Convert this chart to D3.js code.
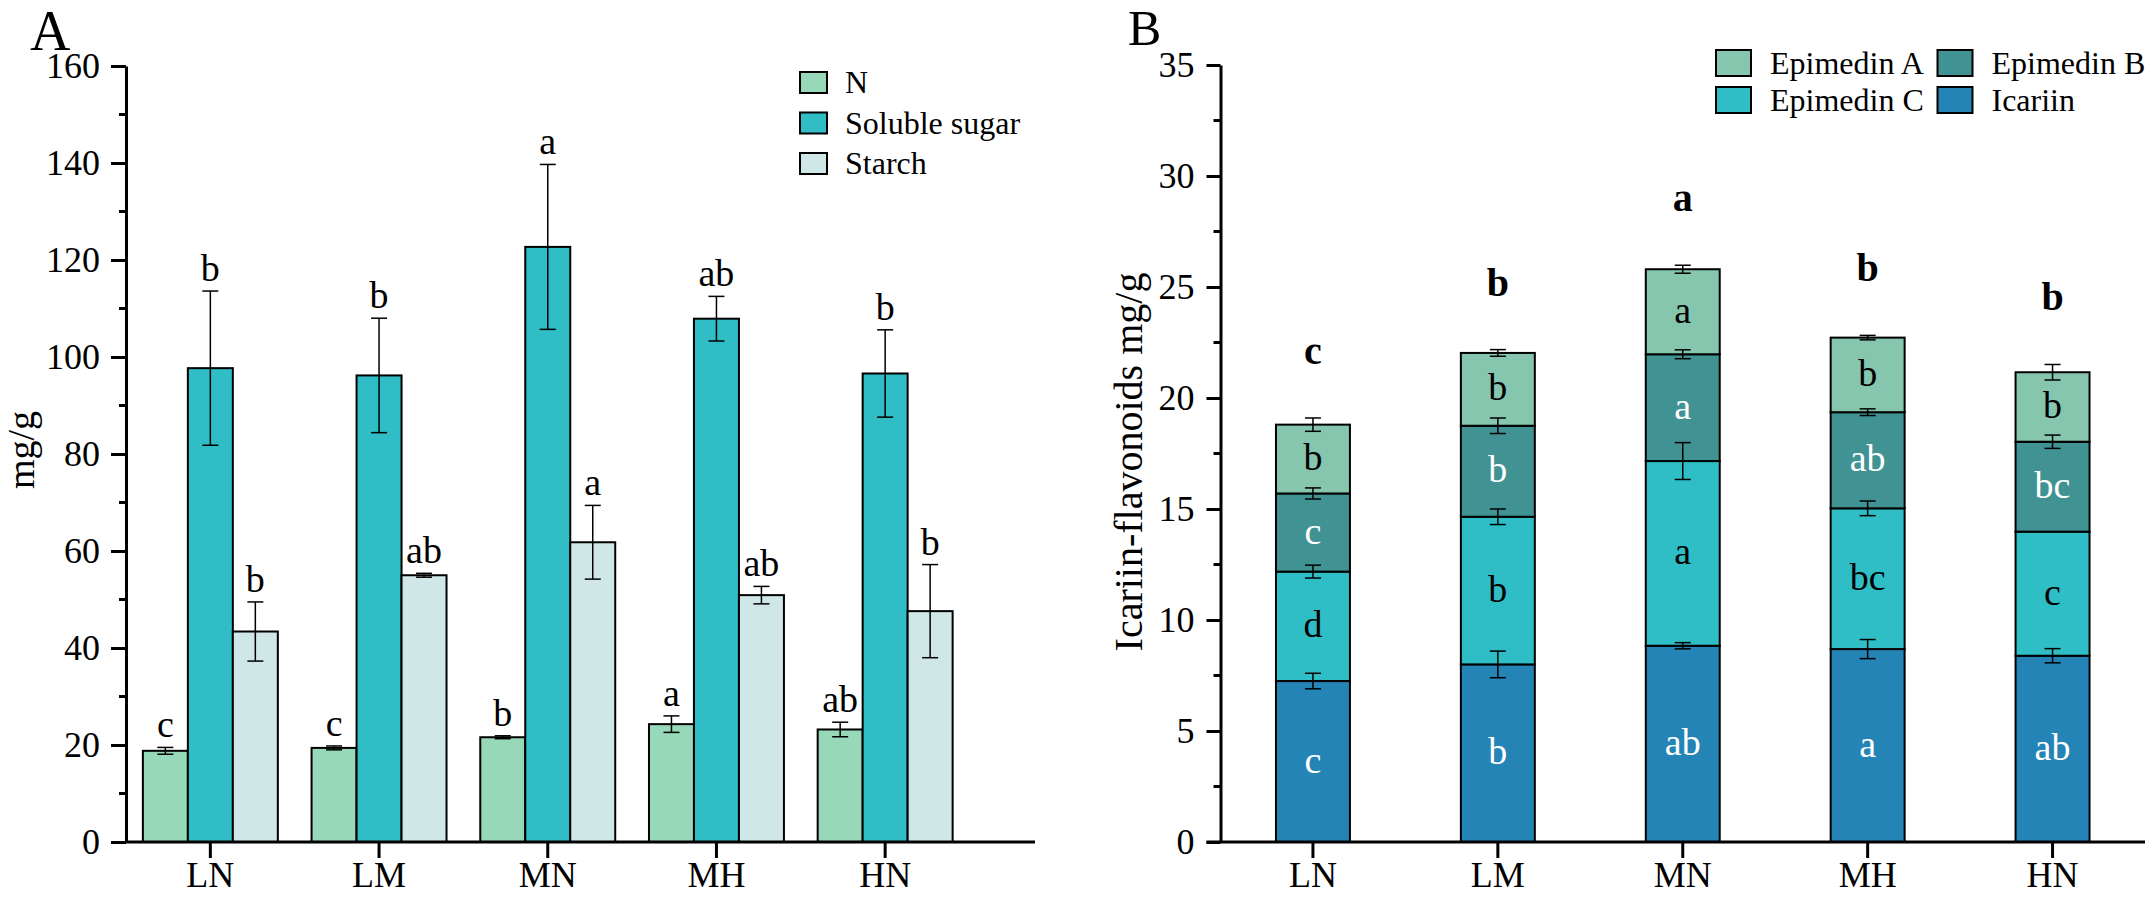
<!DOCTYPE html>
<html>
<head>
<meta charset="utf-8">
<script src="https://cdn.jsdelivr.net/npm/d3@7"></script>
<style>
  html, body { margin: 0; padding: 0; background: #fff; }
  svg { display: block; font-family: "Liberation Serif", "Times New Roman", serif; }
</style>
</head>
<body>
<svg id="chart" width="2149" height="904"></svg>
<script>
// ---- data: panel A (mg/g) ----
const groups = ['LN', 'LM', 'MN', 'MH', 'HN'];
const seriesA = ['N', 'Soluble sugar', 'Starch'];
const nVals = [18.8, 19.4, 21.6, 24.3, 23.2];
const nErr = [0.7, 0.4, 0.3, 1.7, 1.5];
const nLet = ['c', 'c', 'b', 'a', 'ab'];
const sugarVals = [97.7, 96.2, 122.7, 107.9, 96.6];
const sugarErr = [15.9, 11.8, 17.0, 4.6, 9.0];
const sugarLet = ['b', 'b', 'a', 'ab', 'b'];
const starchVals = [43.4, 55.0, 61.8, 50.9, 47.6];
const starchErr = [6.1, 0.4, 7.6, 1.8, 9.6];
const starchLet = ['b', 'ab', 'a', 'ab', 'b'];

// ---- data: panel B (Icariin-flavonoids mg/g), stacked bottom -> top ----
const seriesB = ['Icariin', 'Epimedin C', 'Epimedin B', 'Epimedin A'];
const icariin = [7.25, 8.0, 8.84, 8.69, 8.39];
const icariinErr = [0.35, 0.6, 0.14, 0.43, 0.32];
const icariinLet = ['c', 'b', 'ab', 'a', 'ab'];
const epiC = [4.93, 6.65, 8.32, 6.34, 5.59];
const epiCErr = [0.29, 0.35, 0.83, 0.33, 0];
const epiCLet = ['d', 'b', 'a', 'bc', 'c'];
const epiB = [3.52, 4.1, 4.81, 4.33, 4.05];
const epiBErr = [0.25, 0.35, 0.2, 0.15, 0.3];
const epiBLet = ['c', 'b', 'a', 'ab', 'bc'];
const epiA = [3.1, 3.28, 3.83, 3.36, 3.13];
const epiAErr = [0.3, 0.15, 0.18, 0.1, 0.35];
const epiALet = ['b', 'b', 'a', 'b', 'b'];
const totalLet = ['c', 'b', 'a', 'b', 'b'];

const ticksA = [0, 20, 40, 60, 80, 100, 120, 140, 160];
const minorA = [10, 30, 50, 70, 90, 110, 130, 150];
const ticksB = [0, 5, 10, 15, 20, 25, 30, 35];
const minorB = [2.5, 7.5, 12.5, 17.5, 22.5, 27.5, 32.5];

const colorsA = ['#97d8b9', '#30bdc6', '#cfe8e7'];
const colorsB = {'Icariin': '#2484b6', 'Epimedin C': '#2fbec6', 'Epimedin B': '#419393', 'Epimedin A': '#86c6ae'};
const textColB = {'Icariin': '#fff', 'Epimedin C': '#000', 'Epimedin B': '#fff', 'Epimedin A': '#000'};

const svg = d3.select('#chart');
const FONT = 38;
const TICKFONT = 36;

function styleAxis(g) {
  g.selectAll('path.domain').attr('stroke', '#000').attr('stroke-width', 3);
  g.selectAll('.tick line').attr('stroke', '#000').attr('stroke-width', 3);
  g.selectAll('.tick text').attr('font-size', TICKFONT).attr('fill', '#000')
      .attr('font-family', '"Liberation Serif", "Times New Roman", serif');
}

function errorBar(g, x, yTop, yBot) {
  const cap = 8;
  g.append('line').attr('x1', x).attr('x2', x).attr('y1', yTop).attr('y2', yBot)
      .attr('stroke', '#000').attr('stroke-width', 1.5);
  [yTop, yBot].forEach(yy => {
    g.append('line').attr('x1', x - cap).attr('x2', x + cap).attr('y1', yy).attr('y2', yy)
        .attr('stroke', '#000').attr('stroke-width', 1.5);
  });
}

// ================= Panel A =================
const axA = 126;
const xA = d3.scaleBand().domain(groups).range([axA, axA + 5 * 168.7]).paddingInner(0.2).paddingOuter(0.1);
const xSub = d3.scaleBand().domain(seriesA).range([0, xA.bandwidth()]);
const yA = d3.scaleLinear().domain([0, 160]).range([842, 66]);

const dataA = [
  {vals: nVals, err: nErr, let: nLet},
  {vals: sugarVals, err: sugarErr, let: sugarLet},
  {vals: starchVals, err: starchErr, let: starchLet}
];

const gA = svg.append('g');
dataA.forEach((s, si) => {
  groups.forEach((grp, gi) => {
    const x0 = xA(grp) + xSub(seriesA[si]);
    const v = s.vals[gi];
    gA.append('rect')
        .attr('x', x0).attr('y', yA(v))
        .attr('width', xSub.bandwidth()).attr('height', yA(0) - yA(v))
        .attr('fill', colorsA[si]).attr('stroke', '#000').attr('stroke-width', 2);
  });
});
dataA.forEach((s, si) => {
  groups.forEach((grp, gi) => {
    const cx = xA(grp) + xSub(seriesA[si]) + xSub.bandwidth() / 2;
    const v = s.vals[gi];
    const e = s.err[gi];
    errorBar(gA, cx, yA(v + e), yA(v - e));
    gA.append('text').attr('x', cx).attr('y', yA(v + e) - 10)
        .attr('text-anchor', 'middle').attr('font-size', FONT).text(s.let[gi]);
  });
});

// axes A
const yAxisA = gA.append('g').attr('transform', `translate(${axA},0)`)
    .call(d3.axisLeft(yA).tickValues(ticksA).tickSize(15).tickSizeOuter(0).tickPadding(11).tickFormat(d3.format('d')));
styleAxis(yAxisA);
minorA.forEach(m => {
  yAxisA.append('line').attr('x1', -7).attr('x2', 0).attr('y1', yA(m)).attr('y2', yA(m))
      .attr('stroke', '#000').attr('stroke-width', 3);
});
const xAxisA = gA.append('g').attr('transform', 'translate(0,842)')
    .call(d3.axisBottom(xA).tickSize(16).tickSizeOuter(0).tickPadding(3));
styleAxis(xAxisA);
xAxisA.select('.domain').attr('d', `M${axA},0H1035`);

gA.append('text').attr('transform', 'translate(34,450) rotate(-90)')
    .attr('text-anchor', 'middle').attr('font-size', FONT).text('mg/g');
gA.append('text').attr('x', 30).attr('y', 50).attr('font-size', 56).text('A');

// legend A
seriesA.forEach((name, i) => {
  const ly = 72 + i * 40.5;
  gA.append('rect').attr('x', 800).attr('y', ly).attr('width', 27).attr('height', 21)
      .attr('fill', colorsA[i]).attr('stroke', '#000').attr('stroke-width', 2);
  gA.append('text').attr('x', 845).attr('y', ly + 21).attr('font-size', 32).text(name);
});

// ================= Panel B =================
const axB = 1220.5;
const xB = d3.scaleBand().domain(groups).range([axB, 2145]).paddingInner(0.6).paddingOuter(0.3);
const yB = d3.scaleLinear().domain([0, 35]).range([842, 65]);

const dataB = [
  {name: 'Icariin', vals: icariin, err: icariinErr, let: icariinLet},
  {name: 'Epimedin C', vals: epiC, err: epiCErr, let: epiCLet},
  {name: 'Epimedin B', vals: epiB, err: epiBErr, let: epiBLet},
  {name: 'Epimedin A', vals: epiA, err: epiAErr, let: epiALet}
];
const table = groups.map((grp, gi) => {
  const row = {group: grp};
  dataB.forEach(s => { row[s.name] = s.vals[gi]; });
  return row;
});
const stacked = d3.stack().keys(seriesB)(table);

const gB = svg.append('g');
stacked.forEach(layer => {
  layer.forEach((d, gi) => {
    gB.append('rect')
        .attr('x', xB(groups[gi])).attr('y', yB(d[1]))
        .attr('width', xB.bandwidth()).attr('height', yB(d[0]) - yB(d[1]))
        .attr('fill', colorsB[layer.key]).attr('stroke', '#000').attr('stroke-width', 2);
  });
});
stacked.forEach((layer, li) => {
  const s = dataB[li];
  layer.forEach((d, gi) => {
    const cx = xB(groups[gi]) + xB.bandwidth() / 2;
    const e = s.err[gi];
    if (e > 0) errorBar(gB, cx, yB(d[1] + e), yB(d[1] - e));
    gB.append('text').attr('x', cx).attr('y', (yB(d[0]) + yB(d[1])) / 2 + 11)
        .attr('text-anchor', 'middle').attr('font-size', FONT)
        .attr('fill', textColB[layer.key]).text(s.let[gi]);
  });
});
const topLayer = stacked[stacked.length - 1];
topLayer.forEach((d, gi) => {
  const cx = xB(groups[gi]) + xB.bandwidth() / 2;
  gB.append('text').attr('x', cx).attr('y', yB(d[1] + epiAErr[gi]) - 54)
      .attr('text-anchor', 'middle').attr('font-size', 40).attr('font-weight', 'bold')
      .text(totalLet[gi]);
});

const yAxisB = gB.append('g').attr('transform', `translate(${axB},0)`)
    .call(d3.axisLeft(yB).tickValues(ticksB).tickSize(14).tickSizeOuter(0).tickPadding(12).tickFormat(d3.format('d')));
styleAxis(yAxisB);
minorB.forEach(m => {
  yAxisB.append('line').attr('x1', -7).attr('x2', 0).attr('y1', yB(m)).attr('y2', yB(m))
      .attr('stroke', '#000').attr('stroke-width', 3);
});
const xAxisB = gB.append('g').attr('transform', 'translate(0,842)')
    .call(d3.axisBottom(xB).tickSize(16).tickSizeOuter(0).tickPadding(3));
styleAxis(xAxisB);
xAxisB.select('.domain').attr('d', `M${axB - 14},0H2145`);

gB.append('text').attr('transform', 'translate(1142,462) rotate(-90)')
    .attr('text-anchor', 'middle').attr('font-size', 40).text('Icariin-flavonoids mg/g');
gB.append('text').attr('x', 1128).attr('y', 45).attr('font-size', 50).text('B');

// legend B (2 x 2)
const legOrder = ['Epimedin A', 'Epimedin B', 'Epimedin C', 'Icariin'];
legOrder.forEach((name, i) => {
  const lx = i % 2 === 0 ? 1716 : 1937.5;
  const ly = i < 2 ? 50 : 87;
  gB.append('rect').attr('x', lx).attr('y', ly).attr('width', 35).attr('height', 26)
      .attr('fill', colorsB[name]).attr('stroke', '#000').attr('stroke-width', 2);
  gB.append('text').attr('x', lx + 54).attr('y', ly + 24).attr('font-size', 32).text(name);
});
</script>
</body>
</html>
